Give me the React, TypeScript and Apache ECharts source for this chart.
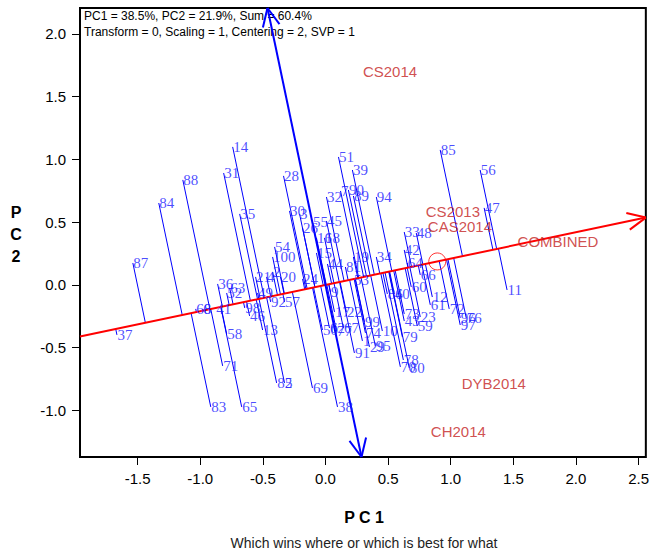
import React, { useEffect, useRef } from "react";
import * as echarts from "echarts";

// Genotype labels and PC scores
const genoNames = ["14","31","88","84","35","87","28","51","39","7","90","89","32","94","85","56","47","30","3","26","55","45","16","18","15","44","81","19","54","100","21","4","2","20","24","36","63","52","37","68","6","41","58","71","83","65","98","46","13","49","92","57","82","5","69","38","9","53","17","22","50","62","77","67","99","74","1","29","95","91","10","79","78","70","80","73","43","23","59","86","40","60","66","64","42","33","48","34","12","61","72","96","76","97","11"];
const genoPC1 = [-0.741,-0.813,-1.139,-1.331,-0.685,-1.538,-0.335,0.104,0.215,0.120,0.183,0.223,0.008,0.406,0.916,1.235,1.267,-0.287,-0.207,-0.183,-0.104,0.008,-0.072,-0.008,-0.072,0.016,0.159,0.223,-0.406,-0.422,-0.558,-0.470,-0.422,-0.359,-0.183,-0.861,-0.765,-0.789,-1.665,-1.036,-0.980,-0.876,-0.789,-0.821,-0.916,-0.669,-0.645,-0.606,-0.502,-0.542,-0.438,-0.327,-0.390,-0.327,-0.104,0.096,0.040,0.223,0.072,0.167,-0.024,0.032,0.088,0.143,0.311,0.319,0.295,0.351,0.398,0.231,0.454,0.614,0.622,0.598,0.669,0.629,0.629,0.757,0.733,0.494,0.550,0.685,0.757,0.653,0.629,0.629,0.725,0.406,0.853,0.837,0.988,1.076,1.124,1.076,1.450];
const genoPC2 = [1.100,0.892,0.837,0.653,0.566,0.175,0.869,1.020,0.916,0.749,0.757,0.709,0.701,0.701,1.076,0.916,0.614,0.590,0.566,0.454,0.502,0.510,0.375,0.375,0.255,0.167,0.143,0.223,0.303,0.223,0.064,0.064,0.104,0.064,0.048,0.008,-0.024,-0.064,-0.398,-0.191,-0.191,-0.191,-0.390,-0.645,-0.972,-0.972,-0.183,-0.247,-0.359,-0.064,-0.135,-0.135,-0.781,-0.781,-0.821,-0.972,-0.056,0.040,-0.215,-0.215,-0.359,-0.343,-0.367,-0.343,-0.295,-0.382,-0.446,-0.494,-0.486,-0.542,-0.367,-0.414,-0.598,-0.653,-0.661,-0.231,-0.287,-0.255,-0.327,-0.072,-0.072,-0.016,0.080,0.175,0.279,0.422,0.414,0.223,-0.096,-0.159,-0.191,-0.263,-0.263,-0.319,-0.040];

// Environments
const envNames = ["CS2014","CS2013","CAS2014","COMBINED","DYB2014","CH2014"];
const envPC1 = [0.295,0.797,0.813,1.530,1.084,0.837];
const envPC2 = [1.697,0.582,0.462,0.343,-0.789,-1.171];

const xTicks = [-1.5,-1.0,-0.5,0.0,0.5,1.0,1.5,2.0,2.5];
const yTicks = [-1.0,-0.5,0.0,0.5,1.0,1.5,2.0];

const X_MIN = -1.96, X_MAX = 2.558, Y_MIN = -1.371, Y_MAX = 2.207;

export default function App() {
  const ref = useRef<HTMLDivElement>(null);
  useEffect(() => {
    if (!ref.current) return;
    const chart = echarts.init(ref.current, undefined, { renderer: "svg" });

    const n = envPC1.length;
    const ax = envPC1.reduce((a, b) => a + b, 0) / n;
    const ay = envPC2.reduce((a, b) => a + b, 0) / n;
    const len = Math.hypot(ax, ay);
    const ux = ax / len, uy = ay / len;

    const projLines = genoPC1.map((x, i) => {
      const y = genoPC2[i];
      const t = x * ux + y * uy;
      return { coords: [[x, y], [t * ux, t * uy]] };
    });

    const arrowSegs = (tip: number[], dx: number, dy: number) => {
      const L = 0.16, a = (25 * Math.PI) / 180;
      const segs: any[] = [];
      for (const s of [a, -a]) {
        const rx = dx * Math.cos(s) - dy * Math.sin(s);
        const ry = dx * Math.sin(s) + dy * Math.cos(s);
        segs.push({ coords: [tip, [tip[0] - L * rx, tip[1] - L * ry]] });
      }
      return segs;
    };

    // ATC abscissa (red)
    const slope = uy / ux;
    const redStart = [X_MIN, slope * X_MIN];
    const redEnd = [X_MAX, slope * X_MAX];
    const redLines = [{ coords: [redStart, redEnd] }, ...arrowSegs(redEnd, ux, uy)];

    // ATC ordinate (blue), perpendicular
    const vx = -uy, vy = ux;
    const tTop = Y_MAX / vy, tBot = Y_MIN / vy;
    const blueTop = [vx * tTop, Y_MAX];
    const blueBot = [vx * tBot, Y_MIN];
    const blueLines = [
      { coords: [blueBot, blueTop] },
      ...arrowSegs(blueTop, vx, vy),
      ...arrowSegs(blueBot, -vx, -vy),
    ];

    const axisCommon = {
      type: "value" as const,
      axisLine: { show: false, onZero: false },
      splitLine: { show: false },
      axisTick: { show: true, inside: false, length: 8, lineStyle: { color: "#000", width: 1 } },
    };

    chart.setOption({
      animation: false,
      backgroundColor: "#fff",
      grid: {
        left: 80, top: 8, width: 567, height: 449,
        show: true, borderColor: "#000", borderWidth: 2, backgroundColor: "transparent",
      },
      xAxis: {
        ...axisCommon,
        min: X_MIN, max: X_MAX,
        axisTick: { ...axisCommon.axisTick, customValues: xTicks },
        axisLabel: {
          customValues: xTicks,
          formatter: (v: number) => v.toFixed(1),
          color: "#000", fontSize: 15, fontFamily: "Liberation Sans, Arial", margin: 14,
        },
      },
      yAxis: {
        ...axisCommon,
        min: Y_MIN, max: Y_MAX,
        axisTick: { ...axisCommon.axisTick, customValues: yTicks },
        axisLabel: {
          customValues: yTicks,
          formatter: (v: number) => v.toFixed(1),
          color: "#000", fontSize: 15, fontFamily: "Liberation Sans, Arial", margin: 14,
        },
      },
      graphic: [
        {
          type: "text", left: 84, top: 10,
          style: { text: "PC1 = 38.5%, PC2 = 21.9%, Sum = 60.4%", fill: "#000", font: "12px 'Liberation Sans', Arial" },
        },
        {
          type: "text", left: 84, top: 26,
          style: { text: "Transform = 0, Scaling = 1, Centering = 2, SVP = 1", fill: "#000", font: "12px 'Liberation Sans', Arial" },
        },
        {
          type: "text", x: 16, y: 234,
          style: { text: "P\nC\n2", fill: "#000", font: "bold 16px 'Liberation Sans', Arial", align: "center", verticalAlign: "middle", lineHeight: 22 },
        },
        {
          type: "text", x: 364, y: 517,
          style: { text: "P C 1", fill: "#000", font: "bold 16px 'Liberation Sans', Arial", align: "center", verticalAlign: "middle" },
        },
        {
          type: "text", x: 364, y: 543,
          style: { text: "Which wins where or which is best for what", fill: "#222", font: "14px 'Liberation Sans', Arial", align: "center", verticalAlign: "middle" },
        },
      ],
      series: [
        {
          type: "lines", coordinateSystem: "cartesian2d", polyline: false, silent: true, z: 2,
          lineStyle: { color: "#0000ff", width: 1, opacity: 1 },
          data: projLines,
        },
        {
          type: "lines", coordinateSystem: "cartesian2d", polyline: false, silent: true, z: 3,
          lineStyle: { color: "#ff0000", width: 2, opacity: 1 },
          data: redLines,
        },
        {
          type: "lines", coordinateSystem: "cartesian2d", polyline: false, silent: true, z: 4,
          lineStyle: { color: "#0000ff", width: 2, opacity: 1 },
          data: blueLines,
        },
        {
          type: "scatter", z: 5, silent: true, symbolSize: 1,
          itemStyle: { color: "rgba(0,0,0,0)" },
          label: {
            show: true, position: "right", distance: 0, formatter: "{b}",
            color: "#1c1cff", fontSize: 15, fontFamily: "Liberation Serif, Times New Roman, serif",
          },
          data: genoNames.map((nm, i) => ({ name: nm, value: [genoPC1[i], genoPC2[i]] })),
        },
        {
          type: "scatter", z: 6, silent: true, symbolSize: 1,
          itemStyle: { color: "rgba(0,0,0,0)" },
          label: {
            show: true, position: "right", distance: 0, formatter: "{b}",
            color: "#c42222", fontSize: 15, fontFamily: "Liberation Sans, Arial",
          },
          data: envNames.map((nm, i) => ({ name: nm, value: [envPC1[i], envPC2[i]] })),
        },
        {
          type: "scatter", z: 6, silent: true, symbol: "circle", symbolSize: 17,
          itemStyle: { color: "rgba(0,0,0,0)", borderColor: "#ff0000", borderWidth: 1 },
          data: [[ax, ay]],
        },
      ],
    });
    return () => chart.dispose();
  }, []);
  return <div ref={ref} style={{ width: 652, height: 552, position: "absolute", left: 0, top: 0 }} />;
}
